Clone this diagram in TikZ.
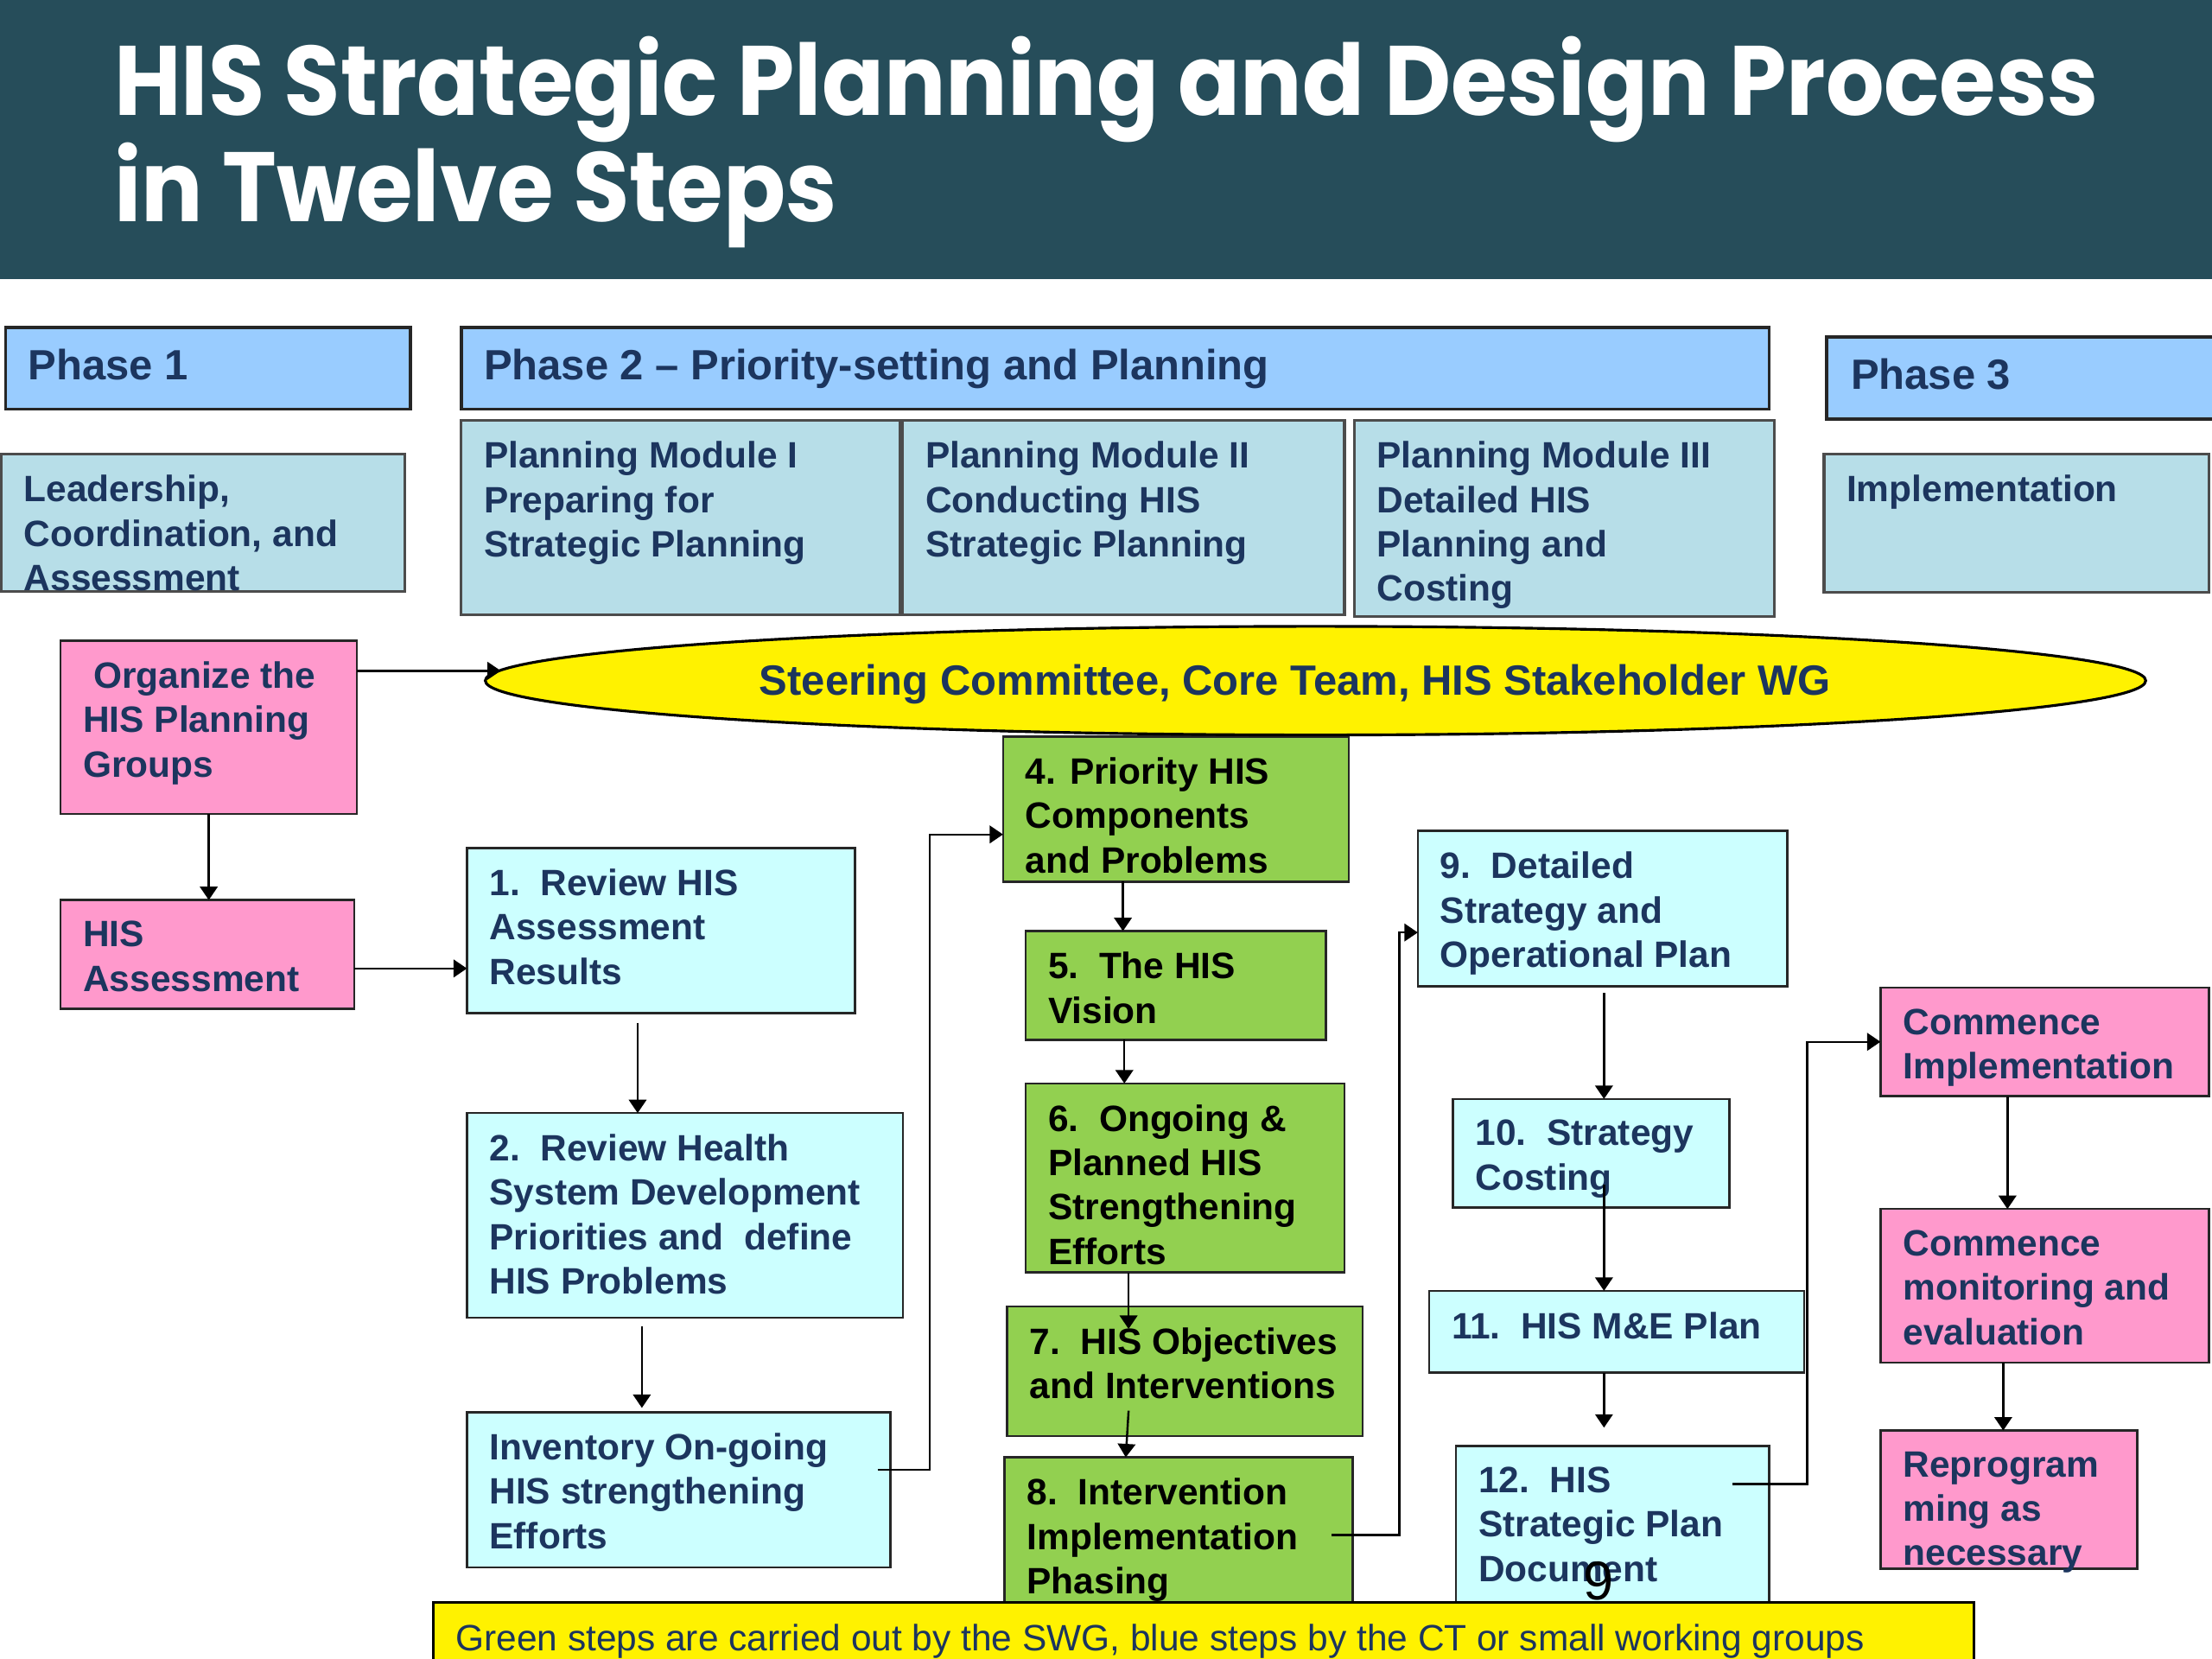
\documentclass[tikz,border=0pt]{standalone}
\usepackage{fontspec}
\setmainfont{Liberation Sans}
\newfontfamily\titlefont[FakeStretch=0.93]{Poppins}
\usetikzlibrary{shapes.geometric,arrows.meta,calc}
\definecolor{titlebg}{HTML}{264D5A}
\definecolor{phasebl}{HTML}{99CCFF}
\definecolor{modbl}{HTML}{B7DEE8}
\definecolor{pinkc}{HTML}{FF99CC}
\definecolor{cyanc}{HTML}{CCFFFF}
\definecolor{greenc}{HTML}{92D050}
\definecolor{navy}{HTML}{1C355E}
\tikzset{
 every node/.style={inner sep=0pt, outer sep=0pt},
 bx/.style={draw=black!85, line width=0.9pt, rectangle, anchor=north west},
 phasebox/.style={bx, fill=phasebl, line width=1.3pt},
 modbox/.style={bx, fill=modbl, draw=black!70, line width=1.1pt},
 pinkbox/.style={bx, fill=pinkc},
 cyanbox/.style={bx, fill=cyanc},
 greenbox/.style={bx, fill=greenc},
 txt/.style={anchor=north west, align=left, text=navy, font=\bfseries\fontsize{14.8pt}{17.9pt}\selectfont},
 gtxt/.style={txt, text=black},
 phtxt/.style={anchor=base west, text=navy, font=\bfseries\fontsize{17.07pt}{20pt}\selectfont},
 arr/.style={-{Triangle[length=0.19cm,width=0.25cm]}, line width=0.85pt, draw=black},
}
% name, box style, x1, y1, x2, y2, text style, text
\newcommand\mkbox[8]{%
 \node[#2, minimum width={(#5-#3)*0.02cm}, minimum height={(#6-#4)*0.02cm}] (#1) at (#3,#4) {};
 \node[#7] (#1t) at ($(#1.north west)+(16,15)$) {#8};
}
\begin{document}
\begin{tikzpicture}[x=0.02cm, y=-0.02cm]
\useasboundingbox (0,0) rectangle (1568,1176);
\clip (0,0) rectangle (1568,1176);
% title
\fill[titlebg] (0,0) rectangle (1568,198);
\node[anchor=base west, text=white, font=\titlefont\bfseries\fontsize{39.8pt}{42pt}\selectfont] (title1) at (81,82) {HIS Strategic Planning and Design Process};
\node[anchor=base west, text=white, font=\titlefont\bfseries\fontsize{39.8pt}{42pt}\selectfont] (title2) at (81,157) {in Twelve Steps};
% phases
\node[phasebox, minimum width={287*0.02cm}, minimum height={58*0.02cm}] (ph1) at (4,232) {};
\node[phtxt] (ph1t) at (20,269) {Phase 1};
\node[phasebox, minimum width={927*0.02cm}, minimum height={58*0.02cm}] (ph2) at (327,232) {};
\node[phtxt] (ph2t) at (343,269) {Phase 2 – Priority-setting and Planning};
\node[phasebox, minimum width={290*0.02cm}, minimum height={58*0.02cm}] (ph3) at (1295,239) {};
\node[phtxt] (ph3t) at (1312,276) {Phase 3};
% modules
\mkbox{lead}{modbox}{1}{322}{287}{419}{txt}{Leadership,\\Coordination, and\\Assessment}
\mkbox{pm1}{modbox}{327}{298}{638}{436}{txt}{Planning Module I\\Preparing for\\Strategic Planning}
\mkbox{pm2}{modbox}{640}{298}{953}{436}{txt}{Planning Module II\\Conducting HIS\\Strategic Planning}
\mkbox{pm3}{modbox}{960}{298}{1258}{437}{txt}{Planning Module III\\Detailed HIS\\Planning and\\Costing}
\mkbox{impl}{modbox}{1293}{322}{1566}{420}{txt}{Implementation}
% left column
\mkbox{org}{pinkbox}{43}{454}{253}{577}{txt}{\ Organize the\\HIS Planning\\Groups}
\mkbox{hisa}{pinkbox}{43}{638}{251}{715}{txt}{HIS\\Assessment}
% blue steps 1-3
\mkbox{s1}{cyanbox}{331}{601}{606}{718}{txt}{1.~~Review HIS\\Assessment\\Results}
\mkbox{s2}{cyanbox}{331}{789}{640}{934}{txt}{2.~~Review Health\\System Development\\Priorities and~~define\\HIS Problems}
\mkbox{inv}{cyanbox}{331}{1001}{631}{1111}{txt}{Inventory On-going\\HIS strengthening\\Efforts}
% green steps
\mkbox{s4}{greenbox}{711}{522}{956}{625}{gtxt}{4. Priority HIS\\Components\\and Problems}
\mkbox{s5}{greenbox}{727}{660}{940}{737}{gtxt}{5.~~The HIS\\Vision}
\mkbox{s6}{greenbox}{727}{768}{953}{902}{gtxt}{6.~~Ongoing \&\\Planned HIS\\Strengthening\\Efforts}
\mkbox{s7}{greenbox}{714}{926}{966}{1018}{gtxt}{7.~~HIS Objectives\\and Interventions}
\mkbox{s8}{greenbox}{712}{1033}{959}{1150}{gtxt}{8.~~Intervention\\Implementation\\Phasing}
% blue steps 9-12
\mkbox{s9}{cyanbox}{1005}{589}{1267}{699}{txt}{9.~~Detailed\\Strategy and\\Operational Plan}
\mkbox{s10}{cyanbox}{1030}{779}{1226}{856}{txt}{10.~~Strategy\\Costing}
\mkbox{s11}{cyanbox}{1013}{915}{1279}{973}{txt}{11.~~HIS M\&E Plan}
\mkbox{s12}{cyanbox}{1032}{1025}{1254}{1150}{txt}{12.~~HIS\\Strategic Plan\\Document}
% phase 3 steps
\mkbox{ci}{pinkbox}{1333}{700}{1566}{777}{txt}{Commence\\Implementation}
\mkbox{cm}{pinkbox}{1333}{857}{1566}{966}{txt}{Commence\\monitoring and\\evaluation}
\mkbox{rp}{pinkbox}{1333}{1014}{1515}{1112}{txt}{Reprogram\\ming as\\necessary}
% ellipse
\node[ellipse, draw=black, line width=1.1pt, fill=yellow, minimum width={1177*0.02cm}, minimum height={77*0.02cm}] (ell) at (932.5,482.5) {};
\node[anchor=base, text=navy, font=\bfseries\fontsize{17.07pt}{20pt}\selectfont] (ellt) at (918,493) {Steering Committee, Core Team, HIS Stakeholder WG};
% connectors
\coordinate (e1) at ($(ell.west)+(11,-7)$);
\draw[arr] (org.east |- e1) -- (e1);
\draw[arr] (org.south) -- (org.south |- hisa.north);
\coordinate (h1) at ($(hisa.east)+(0,10)$);
\draw[arr] (h1) -- (h1 -| s1.west);
\coordinate (a12) at ($(s1.south west)+(121,7)$);
\draw[arr] (a12) -- (a12 |- s2.north);
\coordinate (a2i) at ($(s2.south west)+(124,6)$);
\draw[arr] (a2i) -- ($(a2i |- inv.north)+(0,-3)$);
\coordinate (i1) at ($(inv.east)+(-9,-14)$);
\coordinate (t4) at ($(s4.west)+(0,18)$);
\draw[arr] (i1) -| ($(t4)+(-52,0)$) -- (t4);
\coordinate (a45) at ($(s4.south west)+(85,0)$);
\draw[arr] (a45) -- (a45 |- s5.north);
\coordinate (a56) at ($(s5.south west)+(70,0)$);
\draw[arr] (a56) -- (a56 |- s6.north);
\coordinate (a67) at ($(s6.south west)+(73,0)$);
\draw[arr] (a67) -- ($(a67 |- s7.north)+(0,16)$);
\coordinate (a78) at ($(s7.south west)+(86,-18)$);
\draw[arr] (a78) -- ($(s8.north west)+(86,0)$);
\coordinate (i8) at ($(s8.north east)+(-15,55)$);
\coordinate (t9) at ($(s9.west)+(0,17)$);
\draw[arr] (i8) -| ($(t9)+(-13,0)$) -- (t9);
\coordinate (a910) at ($(s9.south west)+(132,5)$);
\draw[arr] (a910) -- (a910 |- s10.north);
\coordinate (a1011) at ($(s10.south west)+(107,-16)$);
\draw[arr] (a1011) -- (a1011 |- s11.north);
\coordinate (a1112) at ($(s11.south west)+(124,0)$);
\draw[arr] (a1112) -- ($(a1112 |- s12.north)+(0,-13)$);
\coordinate (i12) at ($(s12.north east)+(-26,27)$);
\draw[arr] (i12) -| ($(ci.west)+(-52,0)$) -- (ci.west);
\coordinate (acm) at ($(ci.south west)+(90,0)$);
\draw[arr] (acm) -- (acm |- cm.north);
\coordinate (arp) at ($(cm.south west)+(87,0)$);
\draw[arr] (arp) -- (arp |- rp.north);
% footer
\node[draw=black, line width=1pt, fill=yellow, anchor=north west, minimum width={1092*0.02cm}, minimum height={60*0.02cm}] (foot) at (307,1136) {};
\node[anchor=base west, text=navy, font=\fontsize{14.8pt}{17.9pt}\selectfont] (foott) at (323,1170) {Green steps are carried out by the SWG, blue steps by the CT or small working groups};
% stray glyph
\node[text=black, font=\fontsize{22pt}{24pt}\selectfont] (stray) at (1133,1121) {9};
\end{tikzpicture}
\end{document}
